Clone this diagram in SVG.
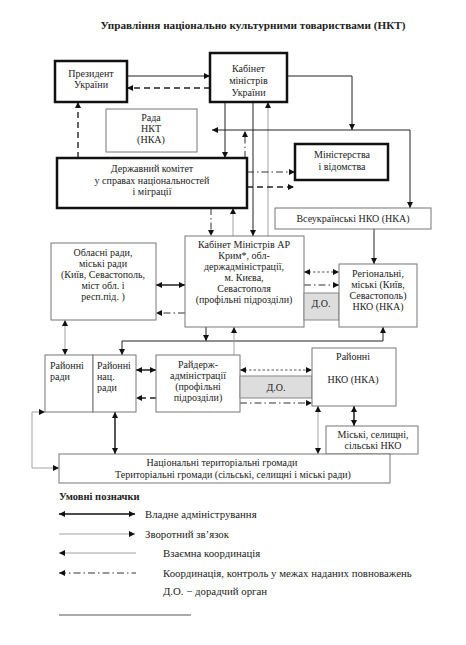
<svg xmlns="http://www.w3.org/2000/svg" width="466" height="645" viewBox="0 0 466 645" font-family="'Liberation Serif', 'DejaVu Serif', serif">
<defs>
<style>
text{font-family:'Liberation Serif','DejaVu Serif',serif;font-size:10px;fill:#222}
.c{text-anchor:middle}
.title{font-size:11.2px;font-weight:bold;text-anchor:middle}
.bold{font-weight:bold;font-size:10.5px}
.lg{font-size:10.8px}
.thick{fill:#fff;stroke:#111;stroke-width:2.5}
.thin{fill:#fff;stroke:#777;stroke-width:1}
.do{fill:#ddd;stroke:#888;stroke-width:1}
.s{fill:none;stroke:#222;stroke-width:1}
.sb{fill:none;stroke:#111;stroke-width:1.4}
.g{fill:none;stroke:#999;stroke-width:0.9}
.d{fill:none;stroke:#222;stroke-width:1.4;stroke-dasharray:6 4}
.dd{fill:none;stroke:#333;stroke-width:1;stroke-dasharray:7 3 1.5 3}
.dt{fill:none;stroke:#444;stroke-width:0.9;stroke-dasharray:2.5 2}
</style>
<marker id="ah" viewBox="0 0 10 10" refX="10" refY="5" markerWidth="8" markerHeight="6" markerUnits="userSpaceOnUse" orient="auto-start-reverse">
<path d="M0,0 L10,5 L0,10 z" fill="#111"/>
</marker>
</defs>
<rect width="466" height="645" fill="#fff"/>
<text class="title" x="253" y="29">Управління національно культурними товариствами (НКТ)</text>

<g id="connectors">
<path class="s" d="M127,76 H210" marker-end="url(#ah)"/>
<path class="d" d="M210,88 H127" marker-end="url(#ah)"/>
<path class="d" d="M78,158 V102" marker-end="url(#ah)"/>
<path class="s" d="M225,102 V158" marker-end="url(#ah)"/>
<path class="s" d="M253,102 V236" marker-end="url(#ah)"/>
<path class="g" d="M268,236 V102" marker-end="url(#ah)"/>
<path class="s" d="M287,76 H352 V130" marker-end="url(#ah)"/>
<path class="s" d="M212,130 H410 V208" marker-start="url(#ah)" marker-end="url(#ah)"/>
<path class="dd" d="M245,158 V131" marker-end="url(#ah)"/>
<path class="dd" d="M247,172 H295" marker-end="url(#ah)"/>
<path class="d" d="M247,187 H294" marker-end="url(#ah)"/>
<path class="dd" d="M211,208 V236" marker-end="url(#ah)"/>
<path class="g" d="M233,236 V208" marker-end="url(#ah)"/>
<path class="s" d="M374,229 V264" marker-end="url(#ah)"/>
<path class="sb" d="M156,285 H185" marker-start="url(#ah)" marker-end="url(#ah)"/>
<path class="dd" d="M185,313 H156" marker-end="url(#ah)"/>
<path class="dt" d="M304,272 H339" marker-start="url(#ah)" marker-end="url(#ah)"/>
<path class="dd" d="M304,285 H339" marker-end="url(#ah)"/>
<path class="g" d="M65,320 V355" marker-start="url(#ah)" marker-end="url(#ah)"/>
<path class="s" d="M206,327 V341" marker-end="url(#ah)"/>
<path class="s" d="M122,355 V341 H383 V327" marker-start="url(#ah)" marker-end="url(#ah)"/>
<path class="g" d="M234,355 V327" marker-end="url(#ah)"/>
<path class="sb" d="M136,370 H156" marker-start="url(#ah)" marker-end="url(#ah)"/>
<path class="d" d="M156,398 H136" marker-end="url(#ah)"/>
<path class="dt" d="M240,370 H312" marker-start="url(#ah)" marker-end="url(#ah)"/>
<path class="dd" d="M240,403 H312" marker-end="url(#ah)"/>
<path class="sb" d="M354,406 V426" marker-start="url(#ah)" marker-end="url(#ah)"/>
<path class="g" d="M318,406 V454" marker-start="url(#ah)" marker-end="url(#ah)"/>
<path class="sb" d="M115,412 V454" marker-start="url(#ah)" marker-end="url(#ah)"/>
<path class="g" d="M45,412 H32 V468 H59" marker-start="url(#ah)" marker-end="url(#ah)"/>
</g>

<g id="president">
<rect class="thick" x="55" y="61" width="72" height="41"/>
<text class="c" x="91" y="77">Президент</text>
<text class="c" x="91" y="88">України</text>
</g>
<g id="kabinet">
<rect class="thick" x="210" y="53" width="77" height="49"/>
<text class="c" x="248.5" y="72">Кабінет</text>
<text class="c" x="248.5" y="84">міністрів</text>
<text class="c" x="248.5" y="96">України</text>
</g>
<g id="rada">
<rect class="thin" x="106" y="109" width="91" height="43"/>
<text class="c" x="151" y="121">Рада</text>
<text class="c" x="151" y="132">НКТ</text>
<text class="c" x="151" y="143">(НКА)</text>
</g>
<g id="derzhkom">
<rect class="thick" x="57" y="158" width="190" height="50"/>
<text class="c" x="152" y="172">Державний комітет</text>
<text class="c" x="152" y="184">у справах національностей</text>
<text class="c" x="152" y="195">і міграції</text>
</g>
<g id="ministries">
<rect class="thick" x="295" y="144" width="93" height="36"/>
<text class="c" x="342" y="158">Міністерства</text>
<text class="c" x="342" y="170">і відомства</text>
</g>
<g id="vseukr">
<rect class="thin" x="275" y="208" width="156" height="21"/>
<text class="c" x="353" y="222">Всеукраїнські НКО (НКА)</text>
</g>
<g id="oblasni">
<rect class="thin" x="51" y="243" width="105" height="77"/>
<text class="c" x="103" y="256">Обласні ради,</text>
<text class="c" x="103" y="267">міські ради</text>
<text class="c" x="103" y="278">(Київ, Севастополь,</text>
<text class="c" x="103" y="289">міст обл. і</text>
<text class="c" x="103" y="300">респ.під. )</text>
</g>
<g id="crimea">
<rect class="thin" x="185" y="236" width="119" height="91"/>
<text class="c" x="244" y="248">Кабінет Міністрів АР</text>
<text class="c" x="244" y="259">Крим*, обл-</text>
<text class="c" x="244" y="270">держадміністрації,</text>
<text class="c" x="244" y="281">м. Києва,</text>
<text class="c" x="244" y="292">Севастополя</text>
<text class="c" x="244" y="303">(профільні підрозділи)</text>
</g>
<g id="do1">
<rect class="do" x="304" y="293" width="35" height="27"/>
<text class="c" x="321" y="307">Д.О.</text>
</g>
<g id="regional">
<rect class="thin" x="339" y="264" width="78" height="63"/>
<text class="c" x="378" y="277">Регіональні,</text>
<text class="c" x="378" y="288">міські (Київ,</text>
<text class="c" x="378" y="299">Севастополь)</text>
<text class="c" x="378" y="310">НКО (НКА)</text>
</g>
<g id="raionni-radi">
<rect class="thin" x="45" y="355" width="48" height="57"/>
<text x="50" y="369">Районні</text>
<text x="50" y="380">ради</text>
</g>
<g id="raionni-nats-radi">
<rect class="thin" x="93" y="355" width="43" height="57"/>
<text x="97" y="369">Районні</text>
<text x="97" y="380">нац.</text>
<text x="97" y="391">ради</text>
</g>
<g id="raiderzh">
<rect class="thin" x="156" y="355" width="84" height="57"/>
<text class="c" x="198" y="368">Райдерж-</text>
<text class="c" x="198" y="379">адміністрації</text>
<text class="c" x="198" y="390">(профільні</text>
<text class="c" x="198" y="401">підрозділи)</text>
</g>
<g id="do2">
<rect class="do" x="240" y="376" width="72" height="22"/>
<text class="c" x="276" y="391">Д.О.</text>
</g>
<g id="raionni-nko">
<rect class="thin" x="312" y="348" width="84" height="58"/>
<text class="c" x="353" y="360">Районні</text>
<text class="c" x="353" y="383">НКО (НКА)</text>
</g>
<g id="miski">
<rect class="thin" x="326" y="426" width="92" height="28"/>
<text class="c" x="373" y="438">Міські, селищні,</text>
<text class="c" x="373" y="449">сільські НКО</text>
</g>
<g id="natsionalni">
<rect class="thin" x="59" y="454" width="331" height="29"/>
<text class="c" x="222" y="466">Національні територіальні громади</text>
<text class="c" x="233" y="478">Територіальні громади (сільські, селищні і міські ради)</text>
</g>

<g id="legend">
<text class="bold" x="59" y="500">Умовні позначки</text>
<path class="sb" d="M59,514 H135" marker-start="url(#ah)" marker-end="url(#ah)"/>
<text class="lg" x="145" y="518">Владне адміністрування</text>
<path class="g" d="M59,534 H135" marker-end="url(#ah)"/>
<text class="lg" x="145" y="538">Зворотний зв’язок</text>
<path class="g" d="M59,553 H136" marker-start="url(#ah)"/>
<text class="lg" x="163" y="557">Взаємна координація</text>
<path class="dd" d="M59,573 H136" marker-start="url(#ah)"/>
<text class="lg" x="163" y="577">Координація, контроль у межах наданих повноважень</text>
<text class="lg" x="163" y="595">Д.О. − дорадчий орган</text>
<path d="M59,615 H191" stroke="#555" stroke-width="1" fill="none"/>
</g>
</svg>
